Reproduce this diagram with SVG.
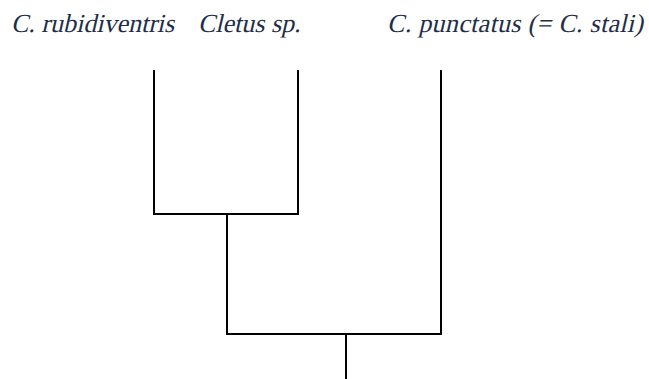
<svg xmlns="http://www.w3.org/2000/svg" width="649" height="379" viewBox="0 0 649 379">
<style>
text{font-family:'Liberation Serif','Times New Roman',serif;font-size:26px;fill:#1f2d4a}
.br{fill:none;stroke:#000;stroke-width:2;stroke-linecap:square}
</style>
<rect width="649" height="379" fill="#fff"/>
<g id="taxon-rubidiventris" transform="translate(11,32) skewX(-13)"><text x="0" y="0">C. rubidiventris</text></g>
<g id="taxon-cletus" transform="translate(198,32) skewX(-13)"><text x="0" y="0">Cletus sp.</text></g>
<g id="taxon-punctatus" transform="translate(387,32) skewX(-13)"><text x="0" y="0" textLength="256" lengthAdjust="spacing">C. punctatus (= C. stali)</text></g>
<g id="connectors">
<path class="br" d="M154,71 V214 H298 V71"/>
<path class="br" d="M227,214 V334 H441 V71"/>
<path class="br" d="M346,334 V379"/>
</g>
</svg>
